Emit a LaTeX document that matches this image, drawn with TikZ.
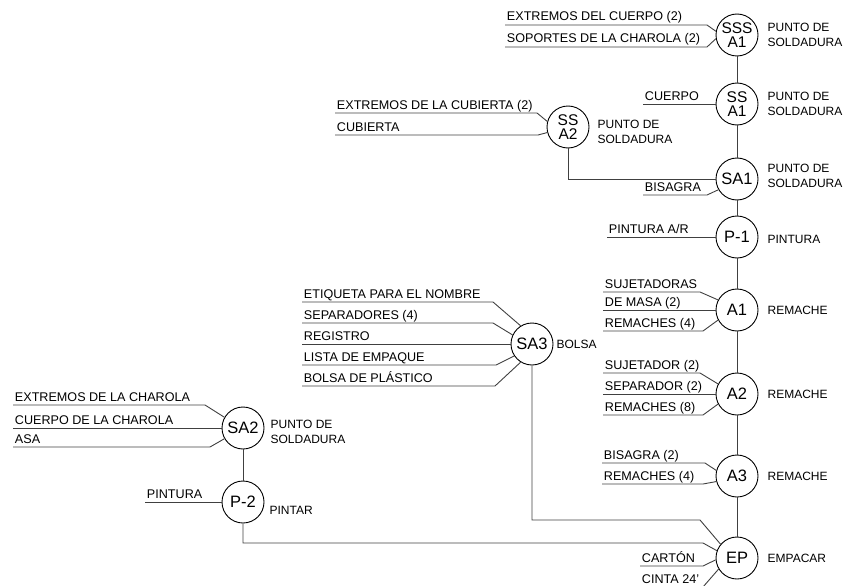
\documentclass[tikz,border=0pt]{standalone}
\usepackage{fontspec}
\setmainfont{Liberation Sans}
\usetikzlibrary{positioning}
\newcommand{\inlet}[6]{\draw[wire] (#3,#5) node[part]{#6} -- (#4,#5) -- (#1.#2);}

\begin{document}
\begin{tikzpicture}[x=1pt,y=-1pt,
    op/.style={circle,draw,line width=0.9pt,minimum size=42pt,inner sep=0pt,
               align=center,font=\fontsize{16.5}{13}\selectfont},
    pair/.style={op,font=\fontsize{15.5}{14.5}\selectfont},
    task/.style={anchor=west,align=left,inner sep=0pt,font=\fontsize{12}{14.5}\selectfont},
    part/.style={anchor=base west,xshift=1.5pt,yshift=4pt,inner sep=0pt,
                 font=\fontsize{12.6}{15}\selectfont},
    wire/.style={line width=0.9pt,draw=black!75}
]
\useasboundingbox (0,0) rectangle (846,586);

\node[pair] (sssa1) at (737,35)  {SSS\\A1};
\node[pair] (ssa1)  at (737,104) {SS\\A1};
\node[op] (sa1)   at (737,179) {SA1};
\node[op] (p1)    at (737,237) {P-1};
\node[op] (a1)    at (737,310) {A1};
\node[op] (a2)    at (737,394) {A2};
\node[op] (a3)    at (737,476) {A3};
\node[op] (ep)    at (737,558) {EP};
\node[pair] (ssa2)  at (568,127) {SS\\A2};
\node[op] (sa3)   at (532,344) {SA3};
\node[op] (sa2)   at (243,428) {SA2};
\node[op] (p2)    at (243,502) {P-2};

\node[task,right=9pt of sssa1]           {PUNTO DE\\SOLDADURA};
\node[task,right=9pt of ssa1]            {PUNTO DE\\SOLDADURA};
\node[task,right=9pt of sa1,yshift=3pt]  {PUNTO DE\\SOLDADURA};
\node[task,right=9pt of p1,yshift=-2pt]  {PINTURA};
\node[task,right=9pt of a1]              {REMACHE};
\node[task,right=9pt of a2]              {REMACHE};
\node[task,right=9pt of a3]              {REMACHE};
\node[task,right=9pt of ep]              {EMPACAR};
\node[task,right=8pt of ssa2,yshift=-5pt] {PUNTO DE\\SOLDADURA};
\node[task,right=3pt of sa3]             {BOLSA};
\node[task,right=6pt of sa2,yshift=-4pt] {PUNTO DE\\SOLDADURA};
\node[task,right=5pt of p2,yshift=-8pt]  {PINTAR};

\foreach \a/\b in {sssa1/ssa1,ssa1/sa1,sa1/p1,p1/a1,a1/a2,a2/a3,a3/ep,sa2/p2}
  \draw[wire] (\a) -- (\b);
\draw[wire] (ssa2) |- (sa1);
\draw[wire] (sa3) |- (700,520) -- (ep.140);
\draw[wire] (p2) |- (703,543) -- (ep.160);

\inlet{sssa1}{170}{505}{707}{25}{EXTREMOS DEL CUERPO (2)}
\inlet{sssa1}{190}{505}{707}{47}{SOPORTES DE LA CHAROLA (2)}
\draw[wire] (643,104) node[part]{CUERPO} -- (ssa1);
\inlet{ssa2}{165}{335}{537}{113}{EXTREMOS DE LA CUBIERTA (2)}
\inlet{ssa2}{195}{335}{538}{135}{CUBIERTA}
\inlet{sa1}{210}{643}{707}{195}{BISAGRA}
\draw[wire] (607,237) node[part]{PINTURA A/R} -- (p1);
\inlet{a1}{152}{603}{700}{292}{SUJETADORAS}
\draw[wire] (603,310) node[part]{DE MASA (2)} -- (a1);
\inlet{a1}{208}{603}{703}{331}{REMACHES (4)}
\inlet{a2}{152}{603}{700}{373}{SUJETADOR (2)}
\draw[wire] (603,394) node[part]{SEPARADOR (2)} -- (a2);
\inlet{a2}{208}{603}{703}{415}{REMACHES (8)}
\inlet{a3}{165}{602}{705}{463}{BISAGRA (2)}
\inlet{a3}{195}{602}{703}{484}{REMACHES (4)}
\inlet{ep}{185}{640}{703}{566}{CARTÓN}
\inlet{ep}{211}{640}{703}{587}{CINTA 24'}
\inlet{sa3}{122}{302}{493}{302}{ETIQUETA PARA EL NOMBRE}
\inlet{sa3}{155}{302}{493}{323}{SEPARADORES (4)}
\draw[wire] (302,344) node[part]{REGISTRO} -- (sa3);
\inlet{sa3}{214}{302}{496}{365}{LISTA DE EMPAQUE}
\inlet{sa3}{238}{302}{495}{386}{BOLSA DE PLÁSTICO}
\inlet{sa2}{150}{13}{205}{405}{EXTREMOS DE LA CHAROLA}
\draw[wire] (13,428) node[part]{CUERPO DE LA CHAROLA} -- (sa2);
\inlet{sa2}{210}{13}{210}{447}{ASA}
\draw[wire] (145,502) node[part]{PINTURA} -- (p2);
\end{tikzpicture}
\end{document}
